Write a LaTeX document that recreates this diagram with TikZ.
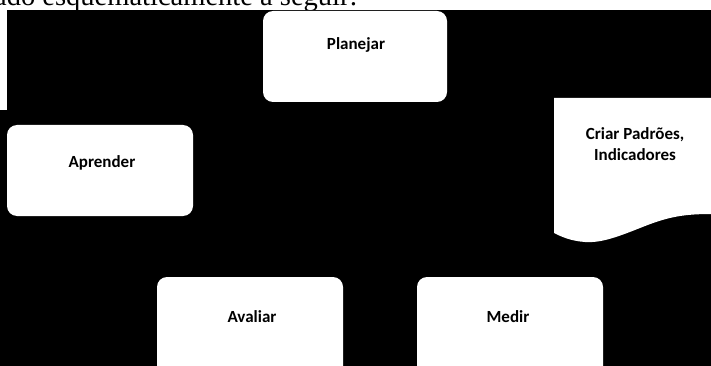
\documentclass[tikz,border=0pt]{standalone}
\usepackage{fontspec}
\setmainfont{Liberation Serif}
\newfontfamily\labelfont[BoldFont={Carlito Bold}]{Carlito}
\begin{document}
\begin{tikzpicture}[x=1pt,y=-1pt,
  stage/.style={fill=white, rounded corners=10pt},
  lbl/.style={font=\labelfont\bfseries\fontsize{17}{20}\selectfont, text=black, align=center, inner sep=0pt}]
\useasboundingbox (0,0) rectangle (711,366);
\clip (0,0) rectangle (711,366);
% running text above the figure
\node[anchor=base west, inner sep=0pt, font=\fontsize{28.5}{32}\selectfont] (caption) at (-6,5.5) {ado esquematicamente a seguir:};
% black panel
\fill[black] (7,10) rectangle (720,380);
\fill[black] (-5,110) rectangle (8,380);
% process boxes
\fill[stage] (263,11) rectangle (447,102);
\fill[stage] (7,125) rectangle (193,216);
\fill[stage] (157,277) rectangle (343,390);
\fill[stage] (417,277) rectangle (603,390);
% document shape with wavy lower edge
\fill[white] (554,98) -- (730,98) -- (730,214) -- (711,214)
  .. controls (680,214) and (665,218) .. (640,228)
  .. controls (615,238) and (600,243) .. (585,242)
  .. controls (570,241) and (560,236) .. (554,233) -- cycle;
% labels
\node[lbl] (planejar) at (356,45) {Planejar};
\node[lbl] (aprender) at (102,163) {Aprender};
\node[lbl] (avaliar) at (252,317) {Avaliar};
\node[lbl] (medir) at (508,317) {Medir};
\node[lbl] (criar) at (635,144) {Criar Padrões,\\[1pt]Indicadores};
\end{tikzpicture}
\end{document}
